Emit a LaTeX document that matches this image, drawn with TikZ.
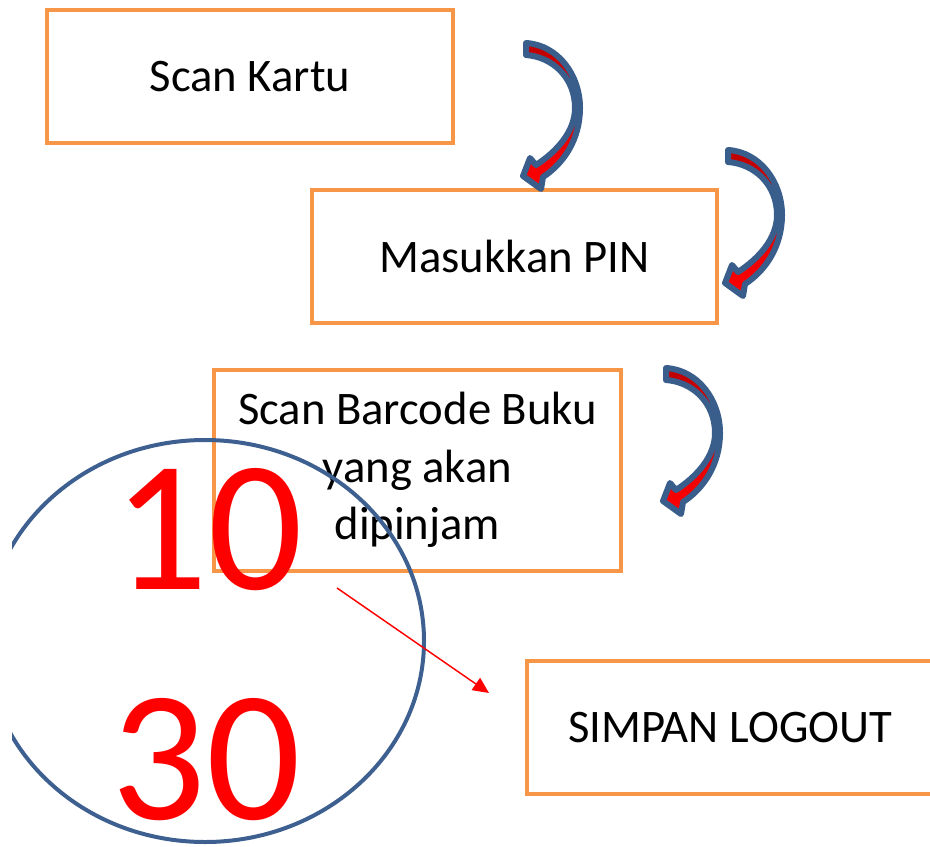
\documentclass[tikz,border=0pt]{standalone}
\usepackage{fontspec}
\setmainfont{Carlito}
\usetikzlibrary{arrows.meta}
\definecolor{boxorange}{HTML}{F79646}
\definecolor{arrblue}{HTML}{3A5E8C}
\definecolor{circblue}{HTML}{3D6090}
\definecolor{darkred}{HTML}{C00000}
\tikzset{
  stepbox/.style={draw=boxorange, line width=3pt, fill=white, inner sep=0pt,
    font=\fontsize{35}{43}\selectfont, align=center},
  bignum/.style={text=red, inner sep=0pt, font=\fontsize{140}{144}\selectfont},
  curarr/.pic={
    \draw[arrblue, line width=4.5pt, line join=round, top color=darkred, bottom color=red]
      (3,3) .. controls (35,5) and (57,35) .. (57,68)
      .. controls (57,100) and (40,124) .. (20,137)
      -- (18,149) -- (0,136) -- (7,118) -- (13,125)
      .. controls (33,112) and (52,92) .. (52,68)
      .. controls (52,38) and (30,17) .. (3,15) -- cycle;
  }
}
\begin{document}
\begin{tikzpicture}[x=0.75pt, y=-0.75pt]
\useasboundingbox (0,0) rectangle (930,846);
\clip (0,0) rectangle (930,846);

\node[stepbox, minimum width=304.5pt, minimum height=99.75pt] (kartu) at (250,76.5) {Scan Kartu};
\node[stepbox, minimum width=303.75pt, minimum height=99.75pt] (pin) at (514.5,256.5) {Masukkan PIN};
\node[stepbox, minimum width=305.25pt, minimum height=150.75pt] (barcode) at (417.5,470) {Scan Barcode Buku\\yang akan\\dipinjam};
\node[stepbox, minimum width=304.5pt, minimum height=99.75pt] (logout) at (730,727.5) {SIMPAN LOGOUT};

\pic at (523,40) {curarr};
\pic at (725,147) {curarr};
\pic at (663,365) {curarr};

\begin{scope}
  \clip (12,0) rectangle (930,846);
  \draw[circblue, line width=3pt] (205,641) ellipse [x radius=219, y radius=201];
\end{scope}

\node[bignum] (n10) at (208,530) {10};
\node[bignum] (n30) at (206,760) {30};

\coordinate (arrs) at (337,588);
\coordinate (arre) at (489,693);
\draw[red, line width=1.1pt, -{Triangle[length=12pt, width=11pt]}] (arrs) -- (arre);
\end{tikzpicture}
\end{document}
